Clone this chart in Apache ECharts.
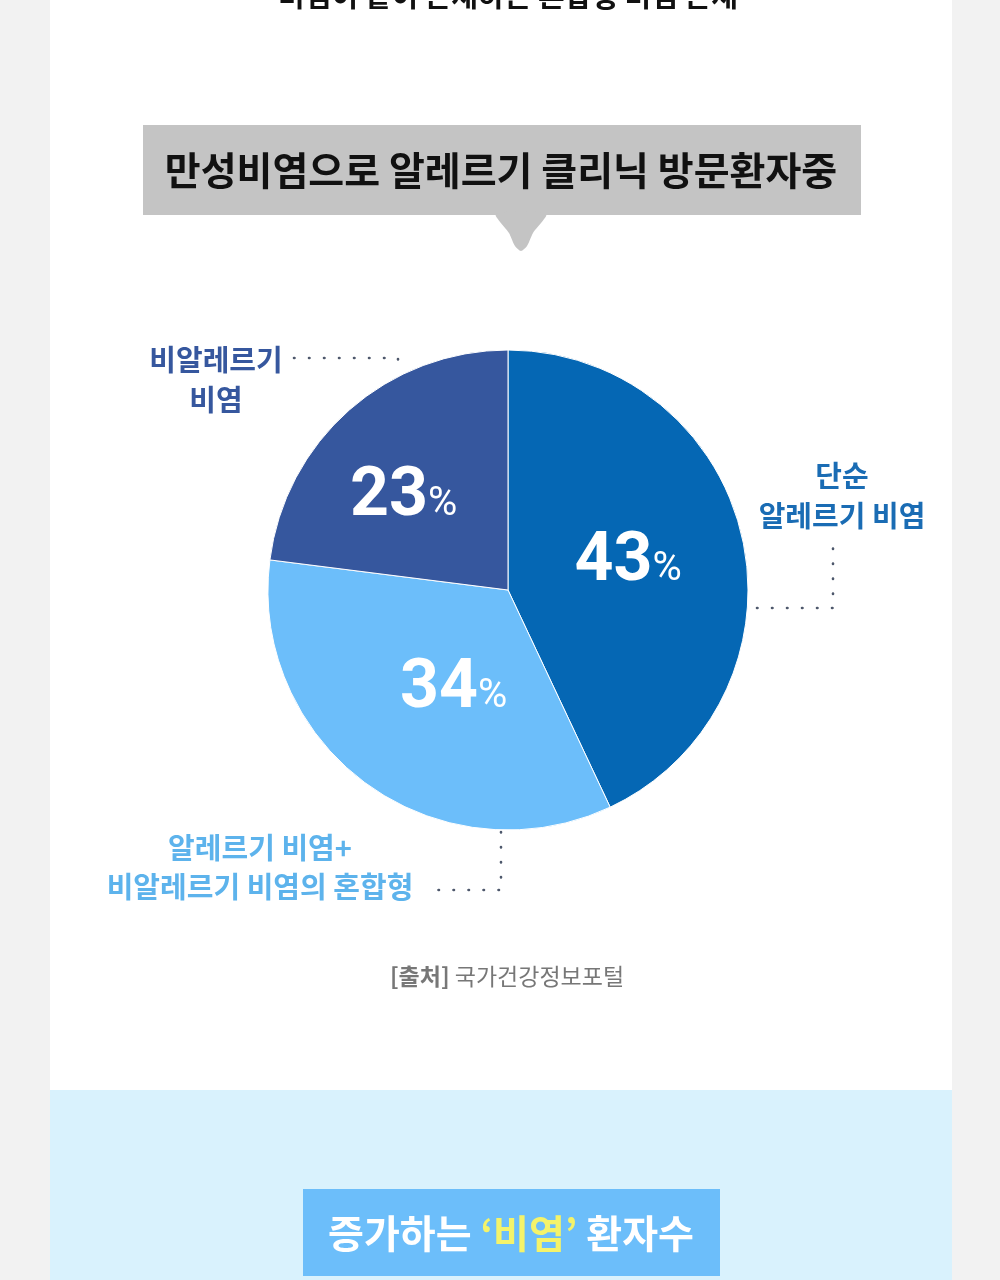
<!DOCTYPE html>
<html>
<head>
<meta charset="utf-8">
<script src="https://cdn.jsdelivr.net/npm/echarts@6/dist/echarts.min.js"></script>
<style>
  html, body { margin: 0; padding: 0; background: #f2f2f2; }
  #chart { width: 1000px; height: 1280px; }
</style>
</head>
<body>
<div id="chart"></div>
<script>
// 데이터
var categories = ['단순 알레르기 비염', '알레르기 비염+비알레르기 비염의 혼합형', '비알레르기 비염'];
var shares = [43, 34, 23];
var sliceColors = ['#0567b4', '#6cbefa', '#36579e'];
// 라벨 위치 미세조정 (padding)
var labelPads = [[0, 0, 0, 0], [0, 0, 0, 36], [0, 46, 0, 0]];

var KR = '"Noto Sans CJK KR", "Noto Sans", sans-serif';
var NUM = 'Roboto, "Noto Sans", sans-serif';
var dotLine = { stroke: '#4e586c', lineWidth: 2.6, lineDash: [0.5, 14.5], lineCap: 'round', fill: null };

var chart = echarts.init(document.getElementById('chart'));

chart.setOption({
    backgroundColor: '#f2f2f2',
    animation: false,
    graphic: [
        // 흰 패널, 하단 하늘색 영역
        { type: 'rect', shape: { x: 50, y: 0, width: 902, height: 1090 }, style: { fill: '#ffffff' }, z: -10 },
        { type: 'rect', shape: { x: 50, y: 1090, width: 902, height: 190 }, style: { fill: '#d9f2fd' }, z: -10 },
        // 잘린 윗 문장
        { type: 'text', x: 508, y: -4, style: { text: '비염이 같이 존재하는 혼합형 비염 존재', font: 'bold 29px ' + KR, fill: '#111', align: 'center', verticalAlign: 'middle' } },
        // 회색 말풍선
        { type: 'rect', shape: { x: 143, y: 125, width: 718, height: 90 }, style: { fill: '#c4c4c4' } },
        { type: 'polygon', shape: { points: [[496, 214], [546, 214], [533, 233], [527, 246], [521, 251], [515, 246], [509, 233]], smooth: 0.25 }, style: { fill: '#c4c4c4' } },
        { type: 'text', x: 501, y: 170, style: { text: '만성비염으로 알레르기 클리닉 방문환자중', font: 'bold 39px ' + KR, fill: '#111', align: 'center', verticalAlign: 'middle' } },
        // 바깥 라벨
        { type: 'text', x: 216, y: 380, style: { text: '비알레르기\n비염', font: 'bold 29px ' + KR, fill: '#36579e', align: 'center', verticalAlign: 'middle', lineHeight: 40 } },
        { type: 'text', x: 842, y: 496, style: { text: '단순\n알레르기 비염', font: 'bold 29px ' + KR, fill: '#1a6cb4', align: 'center', verticalAlign: 'middle', lineHeight: 40 } },
        { type: 'text', x: 260, y: 867, style: { text: '알레르기 비염+\n비알레르기 비염의 혼합형', font: 'bold 29px ' + KR, fill: '#5db3ec', align: 'center', verticalAlign: 'middle', lineHeight: 39 } },
        // 점선 지시선
        { type: 'polyline', shape: { points: [[294, 358], [398, 358], [398, 374]] }, style: dotLine },
        { type: 'polyline', shape: { points: [[757, 608], [833, 608], [833, 548]] }, style: dotLine },
        { type: 'polyline', shape: { points: [[501, 832], [501, 890], [425, 890]] }, style: dotLine },
        // 출처
        { type: 'text', x: 507, y: 976, style: { text: '{b|[출처]} 국가건강정보포털', font: '23px ' + KR, fill: '#777', align: 'center', verticalAlign: 'middle',
            rich: { b: { font: 'bold 23px ' + KR, fill: '#777' } } } },
        // 하단 제목 박스
        { type: 'rect', shape: { x: 303, y: 1189, width: 417, height: 87 }, style: { fill: '#6cbefa' } },
        { type: 'text', x: 511, y: 1233, style: { text: '증가하는 {y|‘비염’} 환자수', font: 'bold 39px ' + KR, fill: '#ffffff', align: 'center', verticalAlign: 'middle',
            rich: { y: { font: 'bold 39px ' + KR, fill: '#f4f36a' } } } }
    ],
    series: [{
        type: 'pie',
        center: [508, 590],
        radius: [0, 240],
        startAngle: 90,
        clockwise: true,
        avoidLabelOverlap: false,
        itemStyle: { borderColor: '#ffffff', borderWidth: 1 },
        label: {
            show: true,
            position: 'inside',
            formatter: function (p) { return '{n|' + p.value + '}{p|%}'; },
            rich: {
                n: { fontFamily: NUM, fontWeight: 'bold', fontSize: 68, color: '#ffffff' },
                p: { fontFamily: NUM, fontSize: 40, color: '#ffffff', padding: [14, 0, 0, 0] }
            }
        },
        labelLine: { show: false },
        emphasis: { disabled: true },
        data: categories.map(function (c, i) {
            return { name: c, value: shares[i], itemStyle: { color: sliceColors[i] }, label: { padding: labelPads[i] } };
        })
    }]
});
</script>
</body>
</html>
